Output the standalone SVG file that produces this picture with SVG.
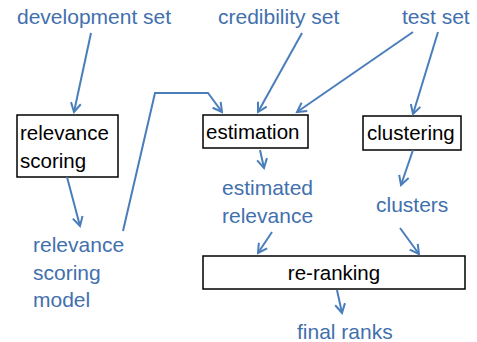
<svg xmlns="http://www.w3.org/2000/svg" width="477" height="342" viewBox="0 0 477 342">
<style>
.lbl{font-family:"Liberation Sans",Arial,sans-serif;font-size:21px;fill:#4270ad}
.nt{font-family:"Liberation Sans",Arial,sans-serif;font-size:20.5px;fill:#000}
.box{fill:#fff;stroke:#000;stroke-width:1.5}
.c{fill:none;stroke:#4a7ebb;stroke-width:2;marker-end:url(#ah)}
</style>
<defs>
<marker id="ah" markerWidth="12" markerHeight="12" refX="10" refY="6" orient="auto" markerUnits="userSpaceOnUse">
<path d="M1,1 L10,6 L1,11" fill="none" stroke="#4a7ebb" stroke-width="2"/>
</marker>
</defs>
<rect width="477" height="342" fill="#fff"/>
<g id="development-set"><text class="lbl" x="17" y="24">development set</text></g>
<g id="credibility-set"><text class="lbl" x="218" y="24">credibility set</text></g>
<g id="test-set"><text class="lbl" x="402" y="24">test set</text></g>
<g id="relevance-scoring"><rect class="box" x="17" y="115" width="101" height="62"/><text class="nt" x="20" y="140">relevance</text><text class="nt" x="20" y="168">scoring</text></g>
<g id="estimation"><rect class="box" x="203" y="115" width="105" height="33"/><text class="nt" x="206" y="139">estimation</text></g>
<g id="clustering"><rect class="box" x="363" y="116" width="98" height="34"/><text class="nt" x="367" y="140">clustering</text></g>
<g id="relevance-scoring-model"><text class="lbl" x="33" y="252">relevance</text><text class="lbl" x="33" y="280">scoring</text><text class="lbl" x="33" y="307">model</text></g>
<g id="estimated-relevance"><text class="lbl" x="222" y="195">estimated</text><text class="lbl" x="222" y="223">relevance</text></g>
<g id="clusters"><text class="lbl" x="376" y="212">clusters</text></g>
<g id="re-ranking"><rect class="box" x="203" y="256" width="262" height="33"/><text class="nt" x="334" y="280" text-anchor="middle">re-ranking</text></g>
<g id="final-ranks"><text class="lbl" x="297" y="339">final ranks</text></g>
<g id="connectors">
<path class="c" d="M91,33 L74,112"/>
<path class="c" d="M67,177 L80,226"/>
<path class="c" d="M123,231 L155,93 L208,93 L222,112"/>
<path class="c" d="M302,33 L258,112"/>
<path class="c" d="M413,32 L297,112"/>
<path class="c" d="M438,32 L413,114"/>
<path class="c" d="M260,150 L264,168"/>
<path class="c" d="M413,150 L401,185"/>
<path class="c" d="M272,232 L258,253"/>
<path class="c" d="M400,228 L419,254"/>
<path class="c" d="M337,290 L342,313"/>
</g>
</svg>
